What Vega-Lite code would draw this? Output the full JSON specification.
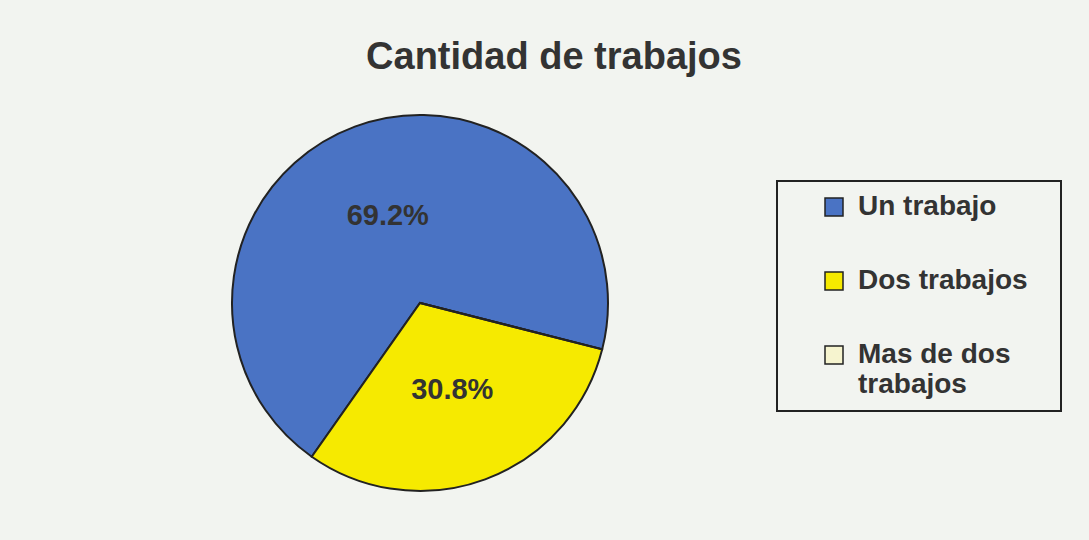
{
  "$schema": "https://vega.github.io/schema/vega-lite/v6.json",
  "width": 376,
  "height": 376,
  "autosize": {"type": "none"},
  "padding": {"left": 232, "top": 115, "right": 481, "bottom": 49},
  "background": "#f2f4f0",
  "config": {"view": {"stroke": null}, "font": "Liberation Sans", "legend": {"strokeWidth": 2}},
  "title": {
    "text": "Cantidad de trabajos",
    "anchor": "middle",
    "frame": "group",
    "dx": 134,
    "offset": 34,
    "fontSize": 38,
    "font": "Liberation Sans",
    "fontWeight": "bold",
    "color": "#333333"
  },
  "data": {
    "values": [
      {"categoria": "Un trabajo", "proporcion": 0.692},
      {"categoria": "Dos trabajos", "proporcion": 0.308},
      {"categoria": "Mas de dos trabajos", "proporcion": 0}
    ]
  },
  "encoding": {
    "theta": {"field": "proporcion", "type": "quantitative", "stack": true, "scale": {"range": [1.82, 8.103]}},
    "order": {"field": "proporcion", "type": "quantitative", "sort": "ascending"}
  },
  "layer": [
    {
      "mark": {"type": "arc", "stroke": "#222222", "strokeWidth": 2},
      "encoding": {
        "color": {
          "field": "categoria",
          "type": "nominal",
          "scale": {
            "domain": ["Un trabajo", "Dos trabajos", "Mas de dos trabajos"],
            "range": ["#4a73c4", "#f6ea00", "#f6f4cf"]
          },
          "legend": {
            "title": null,
            "orient": "none",
            "legendX": 545,
            "legendY": 66,
            "symbolType": "square",
            "symbolSize": 324,
            "symbolStrokeColor": "#222222",
            "symbolStrokeWidth": 1.5,
            "symbolOpacity": 1,
            "labelFont": "Liberation Sans",
            "labelFontSize": 28,
            "labelFontWeight": "bold",
            "labelColor": "#333333",
            "labelOffset": 10,
            "labelLimit": 400,
            "symbolOffset": 31,
            "padding": 12,
            "rowPadding": 46,
            "strokeColor": "#222222",
            "labelExpr": "datum.label == 'Mas de dos trabajos' ? ['Mas de dos', 'trabajos'] : datum.label == 'Dos trabajos' ? 'Dos trabajos\u2800' : datum.label"
          }
        }
      }
    },
    {
      "transform": [{"filter": "datum.proporcion > 0"}],
      "mark": {"type": "text", "radius": 93, "fontSize": 29, "fontWeight": "bold", "font": "Liberation Sans", "color": "#333333"},
      "encoding": {
        "text": {"field": "proporcion", "type": "quantitative", "format": ".1%"}
      }
    }
  ]
}
